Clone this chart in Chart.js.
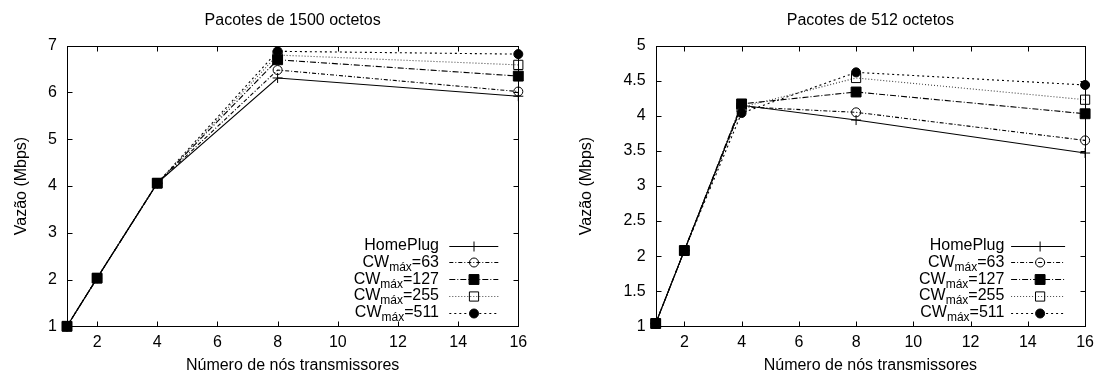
<!DOCTYPE html>
<html>
<head>
<meta charset="utf-8">
<title>Vazão HomePlug</title>
<script src="https://cdn.jsdelivr.net/npm/chart.js@4.4.0/dist/chart.umd.min.js"></script>
<style>
  html, body { margin: 0; padding: 0; background: #fff; }
  .wrap { display: flex; width: 1101px; height: 379px; }
  canvas { display: block; }
</style>
</head>
<body>
<div class="wrap">
  <canvas id="chart1500" width="550" height="379"></canvas>
  <canvas id="chart512" width="551" height="379"></canvas>
</div>
<script>
const FONT = "'Liberation Sans', Arial, Helvetica, sans-serif";

// Número de nós transmissores (eixo x)
const nodes = [1, 2, 4, 8, 16];
const xTicks = [2, 4, 6, 8, 10, 12, 14, 16];

// Vazão (Mbps) com pacotes de 1500 octetos
const homePlug1500 = [1.00, 2.03, 4.06, 6.31, 5.92];
const cw63_1500    = [1.00, 2.03, 4.06, 6.48, 6.02];
const cw127_1500   = [1.00, 2.03, 4.06, 6.70, 6.35];
const cw255_1500   = [1.00, 2.03, 4.06, 6.80, 6.59];
const cw511_1500   = [1.00, 2.03, 4.06, 6.88, 6.82];
const yTicks1500   = [1, 2, 3, 4, 5, 6, 7];

// Vazão (Mbps) com pacotes de 512 octetos
const homePlug512 = [1.04, 2.08, 4.15, 3.94, 3.47];
const cw63_512    = [1.04, 2.08, 4.13, 4.05, 3.65];
const cw127_512   = [1.04, 2.08, 4.17, 4.34, 4.03];
const cw255_512   = [1.04, 2.08, 4.12, 4.54, 4.23];
const cw511_512   = [1.04, 2.08, 4.04, 4.62, 4.44];
const yTicks512   = [1, 1.5, 2, 2.5, 3, 3.5, 4, 4.5, 5];

// Legenda: HomePlug e os valores de CW máximo
const cwMax = [null, 63, 127, 255, 511];

// Estilo de cada série (linha + marcador, à moda do gnuplot)
const STYLES = [
  { color: '#000', dash: [],           point: 'cross',  radius: 5,   filled: false },
  { color: '#000', dash: [4, 2, 1, 2], point: 'circle', radius: 4.5, filled: false },
  { color: '#000', dash: [6, 2, 1, 2], point: 'rect',   radius: 7,   filled: true  },
  { color: '#444', dash: [1, 2],       point: 'rect',   radius: 6.5, filled: false },
  { color: '#000', dash: [2, 3],       point: 'circle', radius: 4.5, filled: true  }
];

function buildDatasets(series) {
  return series.map((vals, i) => {
    const s = STYLES[i];
    return {
      label: cwMax[i] == null ? 'HomePlug' : 'CWmáx=' + cwMax[i],
      cw: cwMax[i],
      data: nodes.map((x, j) => ({ x, y: vals[j] })),
      borderColor: s.color,
      borderWidth: 1.1,
      borderDash: s.dash,
      pointStyle: s.point,
      pointRadius: s.radius,
      pointHoverRadius: s.radius,
      pointBorderWidth: 1,
      pointBorderColor: '#000',
      pointBackgroundColor: s.filled ? '#000' : 'rgba(0,0,0,0)',
      tension: 0,
      clip: false,
      // quadrado cheio por cima dos outros nos pontos sobrepostos
      order: i === 2 ? 0 : 1
    };
  });
}

// Moldura, marcas de escala para dentro e título do gráfico
const framePlugin = {
  id: 'frame',
  afterDraw(chart) {
    const { ctx, chartArea: a, scales: { x, y } } = chart;
    const L = Math.round(a.left) + 0.5, R = Math.round(a.right) + 0.5;
    const T = Math.round(a.top) + 0.5, B = Math.round(a.bottom) + 0.5;
    ctx.save();
    ctx.strokeStyle = '#000';
    ctx.lineWidth = 1;
    ctx.strokeRect(L, T, R - L, B - T);
    ctx.beginPath();
    x.ticks.forEach(t => {
      const px = Math.round(x.getPixelForValue(t.value)) + 0.5;
      ctx.moveTo(px, B); ctx.lineTo(px, B - 5);
      ctx.moveTo(px, T); ctx.lineTo(px, T + 5);
    });
    y.ticks.forEach(t => {
      const py = Math.round(y.getPixelForValue(t.value)) + 0.5;
      ctx.moveTo(L, py); ctx.lineTo(L + 5, py);
      ctx.moveTo(R, py); ctx.lineTo(R - 5, py);
    });
    ctx.stroke();

    ctx.fillStyle = '#000';
    ctx.font = '16px ' + FONT;
    ctx.textAlign = 'center';
    ctx.textBaseline = 'middle';
    ctx.fillText(chart.options.plugins.frame.title, (a.left + a.right) / 2, 21);
    ctx.restore();
  }
};

// Legenda dentro da área, canto inferior direito, com "máx" subscrito
const legendPlugin = {
  id: 'gnuLegend',
  afterDraw(chart) {
    const { ctx, chartArea: a } = chart;
    const o = chart.options.plugins.gnuLegend;
    const main = '16px ' + FONT, sub = '12px ' + FONT;
    chart.data.datasets.forEach((ds, i) => {
      const y = a.bottom - 80.6 + i * 16.75;
      const xr = a.right - o.textRight;
      ctx.save();
      ctx.fillStyle = '#000';
      ctx.textBaseline = 'middle';
      if (ds.cw == null) {
        ctx.font = main;
        ctx.textAlign = 'right';
        ctx.fillText(ds.label, xr, y);
      } else {
        const tail = '=' + ds.cw;
        ctx.font = main;
        const w1 = ctx.measureText('CW').width;
        const w3 = ctx.measureText(tail).width;
        ctx.font = sub;
        const w2 = ctx.measureText('máx').width;
        const x0 = xr - w1 - w2 - w3;
        ctx.textAlign = 'left';
        ctx.font = main; ctx.fillText('CW', x0, y);
        ctx.font = sub;  ctx.fillText('máx', x0 + w1, y + 5);
        ctx.font = main; ctx.fillText(tail, x0 + w1 + w2, y);
      }
      ctx.strokeStyle = ds.borderColor;
      ctx.lineWidth = 1;
      ctx.setLineDash(ds.borderDash);
      ctx.beginPath();
      ctx.moveTo(a.right - o.lineLeft, Math.round(y) + 0.5);
      ctx.lineTo(a.right - o.lineRight, Math.round(y) + 0.5);
      ctx.stroke();
      ctx.setLineDash([]);
      ctx.fillStyle = ds.pointBackgroundColor;
      ctx.strokeStyle = ds.pointBorderColor;
      Chart.helpers.drawPoint(ctx, {
        pointStyle: ds.pointStyle, radius: ds.pointRadius, borderWidth: 1, rotation: 0
      }, a.right - o.markerX, Math.round(y) + 0.5);
      ctx.restore();
    });
  }
};

function makeChart(id, title, series, yTicks, box) {
  return new Chart(document.getElementById(id), {
    type: 'line',
    data: { datasets: buildDatasets(series) },
    options: {
      responsive: false,
      animation: false,
      events: [],
      layout: { padding: { left: box.padLeft, right: box.padRight, top: 45.7, bottom: 0 } },
      plugins: {
        legend: { display: false },
        tooltip: { enabled: false },
        frame: { title },
        gnuLegend: box.legend
      },
      scales: {
        x: {
          type: 'linear',
          min: 1, max: 16,
          afterBuildTicks: s => { s.ticks = xTicks.map(value => ({ value })); },
          afterFit: s => { s.height = 52.7; },
          grid: { display: false, drawTicks: false },
          border: { display: false },
          ticks: { color: '#000', font: { family: FONT, size: 16 }, padding: 7, maxRotation: 0, autoSkip: false },
          title: { display: true, text: 'Número de nós transmissores', color: '#000',
                   font: { family: FONT, size: 16 }, padding: { top: 0, bottom: 3.4 } }
        },
        y: {
          min: yTicks[0], max: yTicks[yTicks.length - 1],
          afterBuildTicks: s => { s.ticks = yTicks.map(value => ({ value })); },
          afterFit: s => { s.width = box.yWidth; },
          grid: { display: false, drawTicks: false },
          border: { display: false },
          ticks: { color: '#000', font: { family: FONT, size: 16 }, padding: 10, callback: v => String(v) },
          title: { display: true, text: 'Vazão (Mbps)', color: '#000',
                   font: { family: FONT, size: 16 }, padding: { top: 12.1, bottom: 0 } }
        }
      }
    },
    plugins: [framePlugin, legendPlugin]
  });
}

makeChart('chart1500', 'Pacotes de 1500 octetos',
  [homePlug1500, cw63_1500, cw127_1500, cw255_1500, cw511_1500], yTicks1500,
  { padLeft: 0, padRight: 31.7, yWidth: 67,
    legend: { textRight: 79.3, lineLeft: 69, lineRight: 20, markerX: 44.3 } });

makeChart('chart512', 'Pacotes de 512 octetos',
  [homePlug512, cw63_512, cw127_512, cw255_512, cw511_512], yTicks512,
  { padLeft: 15, padRight: 14.3, yWidth: 90.7,
    legend: { textRight: 80.7, lineLeft: 74, lineRight: 20, markerX: 45 } });
</script>
</body>
</html>
